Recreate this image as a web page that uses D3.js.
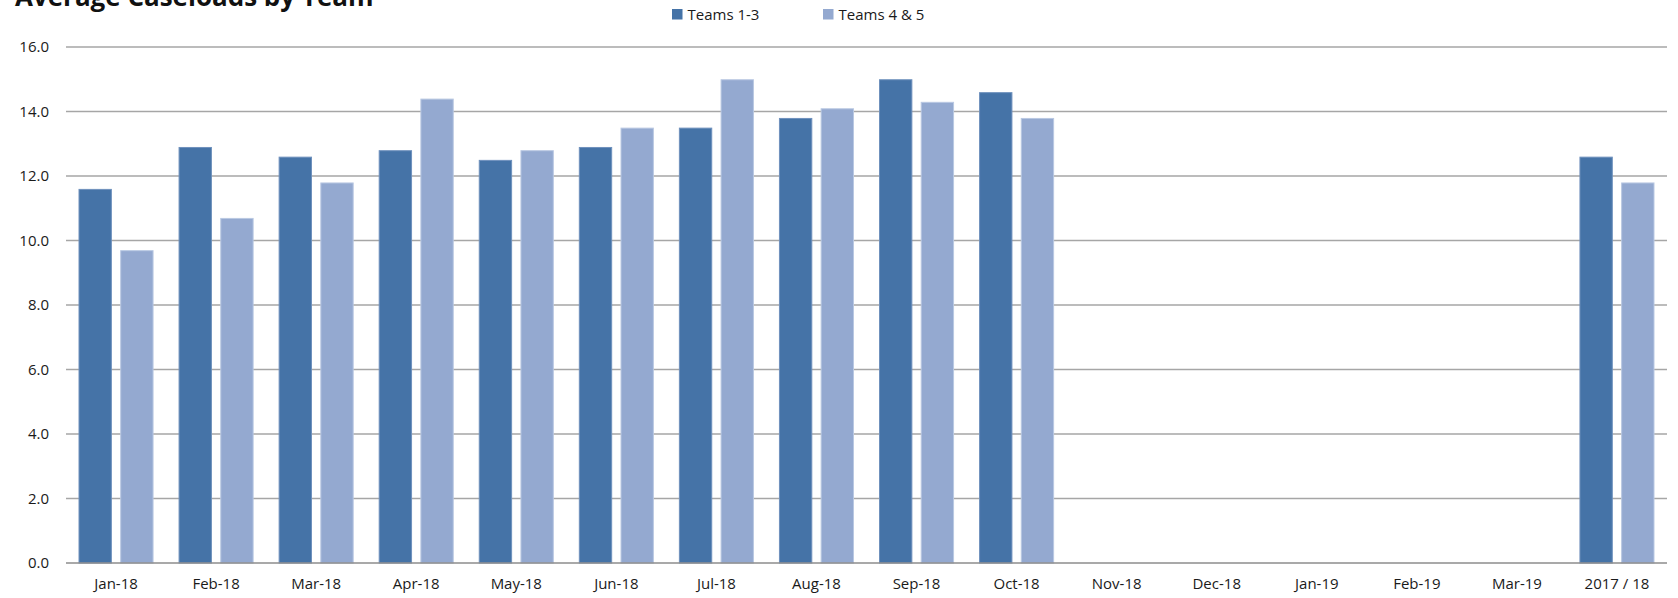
<!DOCTYPE html>
<html>
<head>
<meta charset="utf-8">
<script src="https://cdn.jsdelivr.net/npm/d3@7"></script>
<style>
  body { margin: 0; background: #fff; }
  svg { display: block; font-family: "Open Sans", "Liberation Sans", sans-serif; }
  .tick text { fill: #1a1a1a; }
</style>
</head>
<body>
<div id="chart"></div>
<script>
// chart data
var months = ["Jan-18", "Feb-18", "Mar-18", "Apr-18", "May-18", "Jun-18", "Jul-18", "Aug-18",
              "Sep-18", "Oct-18", "Nov-18", "Dec-18", "Jan-19", "Feb-19", "Mar-19", "2017 / 18"];
var seriesNames = ["Teams 1-3", "Teams 4 & 5"];
var teams13 = [11.6, 12.9, 12.6, 12.8, 12.5, 12.9, 13.5, 13.8, 15.0, 14.6, null, null, null, null, null, 12.6];
var teams45 = [9.7, 10.7, 11.8, 14.4, 12.8, 13.5, 15.0, 14.1, 14.3, 13.8, null, null, null, null, null, 11.8];
var yTicks = [0, 2, 4, 6, 8, 10, 12, 14, 16];

var colors = ["#4573a7", "#94a9d0"];
var strokes = ["#6f91bd", "#b9c8e2"];

var width = 1678, height = 598;
var margin = {top: 47, right: 11, bottom: 35, left: 66};

var svg = d3.select("#chart")
    .append("svg")
    .attr("width", width)
    .attr("height", height);

// scales
var x0 = d3.scaleBand()
    .domain(months)
    .range([margin.left, width - margin.right])
    .paddingInner(0.25)
    .paddingOuter(0.125);
var x1 = d3.scaleBand()
    .domain(seriesNames)
    .range([0, x0.bandwidth()])
    .paddingInner(0.2);
var y = d3.scaleLinear()
    .domain([0, 16])
    .range([height - margin.bottom, margin.top]);

// gridlines
svg.append("g")
    .selectAll("line")
    .data(yTicks.filter(function(d) { return d > 0; }))
    .enter().append("line")
    .attr("x1", margin.left)
    .attr("x2", width - margin.right)
    .attr("y1", function(d) { return y(d); })
    .attr("y2", function(d) { return y(d); })
    .attr("stroke", "#a6a6a6")
    .attr("stroke-width", 1.3);

// y axis labels
var yAxis = d3.axisLeft(y)
    .tickValues(yTicks)
    .tickFormat(d3.format(".1f"))
    .tickSize(0)
    .tickPadding(17);
svg.append("g")
    .attr("transform", "translate(" + margin.left + ",0)")
    .call(yAxis)
    .call(function(g) { g.select(".domain").remove(); })
    .selectAll("text")
    .attr("font-size", "15px")
    .attr("font-family", "Open Sans, sans-serif");

// bars
var rows = months.map(function(m, i) { return {month: m, values: [teams13[i], teams45[i]]}; });
var groups = svg.append("g")
    .selectAll("g")
    .data(rows)
    .enter().append("g")
    .attr("transform", function(d) { return "translate(" + x0(d.month) + ",0)"; });

groups.selectAll("rect")
    .data(function(d) {
        return d.values.map(function(v, i) { return {name: seriesNames[i], value: v, idx: i}; })
            .filter(function(e) { return e.value != null; });
    })
    .enter().append("rect")
    .attr("x", function(d) { return x1(d.name) + 0.5; })
    .attr("y", function(d) { return y(d.value) + 0.5; })
    .attr("width", x1.bandwidth() - 1)
    .attr("height", function(d) { return y(0) - y(d.value) - 0.5; })
    .attr("fill", function(d) { return colors[d.idx]; })
    .attr("stroke", function(d) { return strokes[d.idx]; })
    .attr("stroke-width", 1);

// x axis
var xAxis = d3.axisBottom(x0).tickSize(0).tickPadding(15);
svg.append("g")
    .attr("transform", "translate(0," + y(0) + ")")
    .call(xAxis)
    .call(function(g) {
        g.select(".domain").attr("stroke", "#8c8c8c").attr("stroke-width", 1.5)
            .attr("d", "M" + margin.left + ",0H" + (width - margin.right));
    })
    .selectAll("text")
    .attr("font-size", "15px")
    .attr("font-family", "Open Sans, sans-serif");

// title (top of it runs off the page, as in the original)
svg.append("text")
    .attr("x", 15)
    .attr("y", 6)
    .attr("font-size", "26px")
    .attr("font-weight", "bold")
    .attr("fill", "#111")
    .text("Average Caseloads by Team");

// legend
var legendX = [672, 823];
var legend = svg.append("g")
    .selectAll("g")
    .data(seriesNames)
    .enter().append("g")
    .attr("transform", function(d, i) { return "translate(" + legendX[i] + ",9)"; });
legend.append("rect")
    .attr("width", 10.5)
    .attr("height", 10.5)
    .attr("fill", function(d, i) { return colors[i]; });
legend.append("text")
    .attr("x", 15.5)
    .attr("y", 10.5)
    .attr("font-size", "15px")
    .attr("fill", "#1a1a1a")
    .text(function(d) { return d; });
</script>
</body>
</html>
